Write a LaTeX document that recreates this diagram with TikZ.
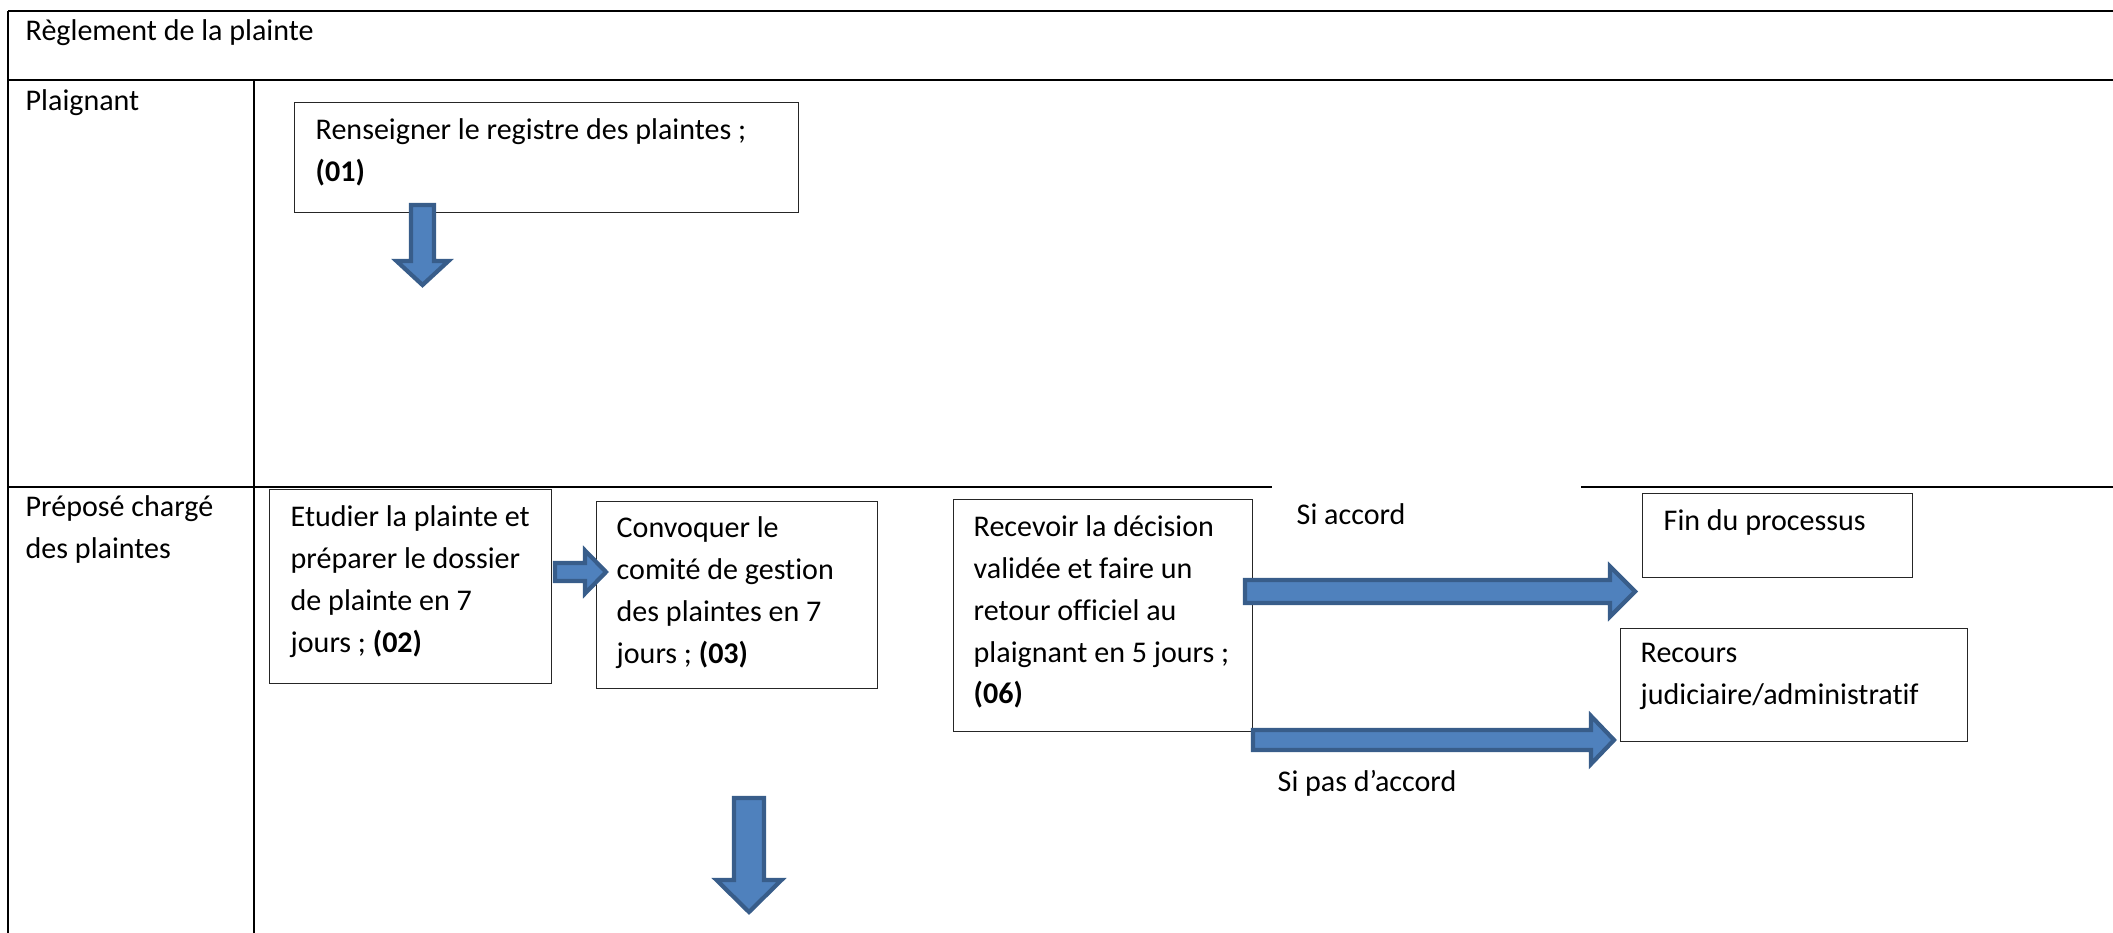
\documentclass[tikz,border=0pt]{standalone}
\usepackage{fontspec}
\setmainfont{Carlito}[Ligatures=NoCommon]
\usetikzlibrary{calc}
\definecolor{bleufleche}{HTML}{4F81BD}
\definecolor{bordfleche}{HTML}{385D8A}
\tikzset{
  trait/.style={line width=0.8pt},
  boite/.style={draw=black!85, line width=0.4pt, anchor=north west, inner sep=0pt},
  texte/.style={anchor=north west, align=left, inner sep=0pt, font=\fontsize{8.55}{11.9}\selectfont},
  fleche/.style={fill=bleufleche, draw=bordfleche, line width=1.2pt, line join=miter}
}
% fleche pleine : depart, pointe, demi-largeur du corps, demi-largeur de la tete, longueur de la tete
\newcommand{\flechedroite}[5]{%
  \draw[fleche] let \p1=(#1), \p2=(#2) in
    (\x1,\y1+#3) -- (\x2-#5,\y1+#3) -- (\x2-#5,\y1+#4) -- (\x2,\y1)
    -- (\x2-#5,\y1-#4) -- (\x2-#5,\y1-#3) -- (\x1,\y1-#3) -- cycle;}
\newcommand{\flechebas}[5]{%
  \draw[fleche] let \p1=(#1), \p2=(#2) in
    (\x1-#3,\y1) -- (\x1+#3,\y1) -- (\x1+#3,\y2+#5) -- (\x1+#4,\y2+#5) -- (\x1,\y2)
    -- (\x1-#4,\y2+#5) -- (\x1-#3,\y2+#5) -- cycle;}
\begin{document}
\begin{tikzpicture}
    \useasboundingbox (0,0) rectangle (21.13,-9.33);

    % tableau
    \coordinate (HG) at (0.08, -0.11);
    \coordinate (HD) at (21.13, -0.11);
    \coordinate (BG) at (0.08, -9.33);
    \draw[trait] (HG) -- (HD);
    \draw[trait] (HG) -- (BG);
    \draw[trait] (0.08, -0.80) -- (21.13, -0.80);
    \draw[trait] (2.54, -0.80) -- (2.54, -9.33);
    \draw[trait] (0.08, -4.87) -- (12.72, -4.87);
    \draw[trait] (15.81, -4.87) -- (21.13, -4.87);

    \node[texte] (titre) at (0.25, -0.19) {Règlement de la plainte};
    \node[texte] (plaignant) at (0.25, -0.89) {Plaignant};
    \node[texte] (prepose) at (0.25, -4.95) {Préposé chargé\\des plaintes};

    % etapes
    \node[boite, minimum width=5.04cm, minimum height=1.10cm] (b01) at (2.94, -1.02) {};
    \node[texte] (t01) at (3.15, -1.18) {Renseigner le registre des plaintes ;\\\textbf{(01)}};

    \node[boite, minimum width=2.82cm, minimum height=1.94cm] (b02) at (2.69, -4.89) {};
    \node[texte] (t02) at (2.90, -5.05) {Etudier la plainte et\\préparer le dossier\\de plainte en 7\\jours ; \textbf{(02)}};

    \node[boite, minimum width=2.81cm, minimum height=1.87cm] (b03) at (5.96, -5.01) {};
    \node[texte] (t03) at (6.16, -5.16) {Convoquer le\\comité de gestion\\des plaintes en 7\\jours ; \textbf{(03)}};

    \node[boite, minimum width=2.99cm, minimum height=2.32cm] (b06) at (9.53, -4.99) {};
    \node[texte] (t06) at (9.73, -5.15) {Recevoir la décision\\validée et faire un\\retour officiel au\\plaignant en 5 jours ;\\\textbf{(06)}};

    \node[boite, minimum width=2.70cm, minimum height=0.84cm] (fin) at (16.42, -4.93) {};
    \node[texte] (tfin) at (16.63, -5.09) {Fin du processus};

    \node[boite, minimum width=3.47cm, minimum height=1.13cm] (recours) at (16.20, -6.28) {};
    \node[texte] (trecours) at (16.40, -6.43) {Recours\\judiciaire/administratif};

    \node[texte] (oui) at (12.96, -5.03) {Si accord};
    \node[texte] (non) at (12.77, -7.70) {Si pas d’accord};

    % fleches
    \coordinate (f1a) at (4.225, -2.05);
    \coordinate (f1b) at (4.225, -2.85);
    \flechebas{f1a}{f1b}{0.115cm}{0.26cm}{0.24cm}

    \coordinate (f2a) at (5.55, -5.72);
    \coordinate (f2b) at (6.06, -5.72);
    \flechedroite{f2a}{f2b}{0.09cm}{0.215cm}{0.21cm}

    \coordinate (f3a) at (12.45, -5.915);
    \coordinate (f3b) at (16.35, -5.915);
    \flechedroite{f3a}{f3b}{0.115cm}{0.25cm}{0.25cm}

    \coordinate (f4a) at (12.53, -7.40);
    \coordinate (f4b) at (16.14, -7.40);
    \flechedroite{f4a}{f4b}{0.10cm}{0.24cm}{0.23cm}

    \coordinate (f5a) at (7.49, -7.98);
    \coordinate (f5b) at (7.49, -9.12);
    \flechebas{f5a}{f5b}{0.15cm}{0.325cm}{0.32cm}
\end{tikzpicture}
\end{document}
